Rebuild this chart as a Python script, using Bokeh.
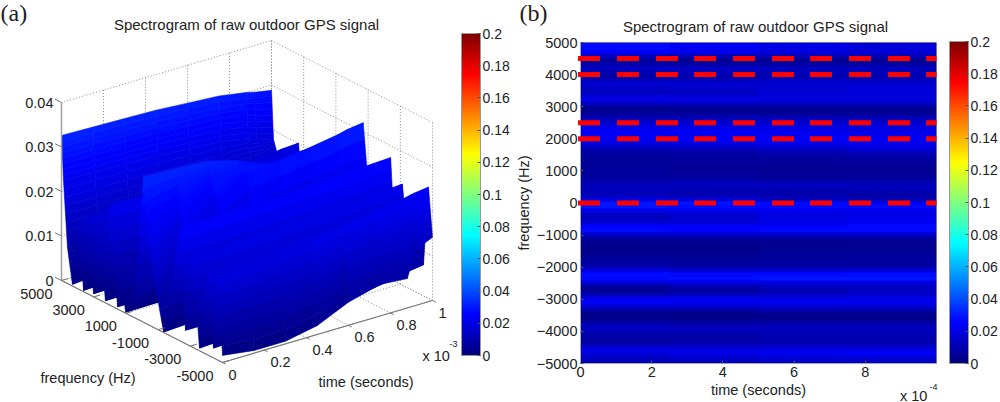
from bokeh.core.properties import value
from bokeh.embed import file_html
from bokeh.layouts import row
from bokeh.models import ColorBar, ColumnDataSource, FixedTicker, Label, LinearColorMapper, Range1d
from bokeh.plotting import figure
from bokeh.resources import INLINE
import numpy as np

TITLE = "Spectrogram of raw outdoor GPS signal"
SANS = "Liberation Sans"

cbar_ticks = [0, 0.02, 0.04, 0.06, 0.08, 0.1, 0.12, 0.14, 0.16, 0.18, 0.2]
cbar_labels = ["0", "0.02", "0.04", "0.06", "0.08", "0.1", "0.12", "0.14", "0.16", "0.18", "0.2"]

# panel (a): surface, z in units of 1e-3
surf_time = [0, 0.15, 0.3, 0.45, 0.6, 0.75, 0.88, 0.92, 1]
surf_freq = [5000, 4875, 4630, 4320, 3950, 3630, 3320, 3010, 2700, 2270, 1960, 1520, 1300,
             1020, 400, -90, -700, -1340, -2400, -2700, -3130, -3570, -4070, -4440, -4750, -5000]
surf_z = [
    [32.6, 32.4, 32.2, 32.0, 31.5, 31.0, 30.0, 29.5, 28.8],
    [22.7, 22.5, 22.3, 22.0, 21.5, 21.0, 20.0, 19.0, 18.0],
    [8.1, 8.2, 8.3, 8.5, 9.0, 10.0, 12.0, 13.0, 15.0],
    [0.4, 1.0, 2.0, 3.0, 5.0, 8.0, 12.0, 14.0, 16.5],
    [15.5, 15.5, 15.6, 15.8, 16.0, 16.5, 17.0, 17.2, 17.7],
    [0.3, 0.6, 1.0, 2.0, 4.0, 7.0, 12.0, 15.0, 18.8],
    [17.7, 17.7, 17.8, 18.0, 18.5, 19.0, 19.5, 19.8, 20.0],
    [0.7, 0.8, 1.0, 1.5, 2.0, 3.0, 4.0, 5.0, 6.0],
    [17.0, 17.0, 17.0, 17.5, 18.0, 18.0, 18.0, 18.0, 18.0],
    [0.5, 0.6, 0.8, 1.0, 1.5, 2.0, 2.5, 3.0, 3.0],
    [22.5, 22.5, 22.0, 22.0, 22.0, 22.0, 22.0, 22.0, 22.0],
    [0.5, 0.5, 0.6, 0.8, 1.0, 1.5, 2.0, 2.0, 2.0],
    [8.0, 8.0, 8.0, 8.0, 8.0, 8.0, 8.0, 8.0, 8.0],
    [0.2, 0.3, 0.5, 0.8, 1.0, 1.5, 2.0, 2.0, 2.0],
    [5.0, 6.0, 7.0, 8.0, 8.0, 8.0, 8.0, 8.0, 8.0],
    [32.7, 32.4, 32.0, 30.0, 27.0, 24.0, 22.0, 21.0, 20.0],
    [12.0, 18.0, 24.0, 28.0, 29.0, 30.0, 31.0, 31.5, 32.0],
    [0.1, 0.5, 1.0, 1.5, 2.0, 3.0, 3.5, 4.0, 4.0],
    [25.6, 25.7, 25.9, 26.0, 26.3, 26.6, 27.0, 27.1, 27.3],
    [3.0, 3.0, 3.0, 4.0, 4.0, 5.0, 6.0, 6.0, 7.0],
    [20.6, 20.8, 21.0, 21.2, 21.5, 21.8, 22.2, 22.4, 22.7],
    [0.6, 1.0, 1.5, 2.0, 2.5, 3.0, 4.0, 5.0, 6.0],
    [18.0, 18.5, 19.0, 19.5, 20.0, 21.0, 21.5, 22.0, 22.0],
    [2.2, 2.5, 3.0, 3.5, 4.0, 5.0, 6.0, 6.5, 7.0],
    [18.7, 19.5, 20.2, 21.0, 22.0, 23.0, 24.0, 24.5, 25.0],
    [1.6, 0.6, 0.6, 2.0, 5.2, 7.1, 6.6, 12.5, 14.2],
]
f_ticks_a = [5000, 3000, 1000, -1000, -3000, -5000]
t_ticks_a = [0, 0.2, 0.4, 0.6, 0.8, 1]
t_labels_a = ["0", "0.2", "0.4", "0.6", "0.8", "1"]
z_ticks_a = [0, 0.01, 0.02, 0.03, 0.04]
z_labels_a = ["0", "0.01", "0.02", "0.03", "0.04"]

# panel (b): spectrum from 5000 Hz down in 125 Hz steps, four time columns, units of 1e-3
spec_a = [27, 27, 24, 11, 6, 10, 14, 10, 8, 13, 17, 14, 13, 18, 21, 14, 4, 4, 8, 13, 17, 22, 24, 24, 22, 20, 13,
          8, 7, 6, 6, 6, 6, 7, 8, 11, 13, 11, 13, 20, 29, 29, 22, 14, 13, 17, 25, 27, 15, 7, 4, 3, 3, 4, 6, 7, 10,
          20, 28, 27, 18, 7, 4, 11, 22, 24, 17, 8, 3, 3, 7, 13, 13, 10, 8, 7, 13, 21, 18, 14, 13]
spec_b = [24, 24, 21, 10, 4, 8, 14, 11, 8, 13, 17, 15, 14, 17, 20, 14, 6, 4, 8, 14, 17, 21, 24, 24, 24, 21, 14,
          10, 7, 6, 6, 4, 6, 6, 8, 13, 13, 10, 11, 18, 29, 28, 22, 17, 15, 18, 25, 25, 15, 7, 4, 3, 3, 4, 6, 7, 8,
          17, 27, 28, 20, 10, 7, 13, 22, 22, 17, 8, 3, 3, 6, 11, 13, 10, 8, 8, 13, 21, 20, 15, 14]
spec_c = [21, 21, 18, 10, 4, 8, 13, 11, 10, 14, 17, 17, 17, 18, 18, 14, 6, 3, 8, 14, 17, 21, 22, 24, 24, 22, 17,
          11, 8, 6, 6, 4, 4, 6, 7, 13, 13, 10, 10, 14, 27, 27, 22, 20, 20, 21, 25, 27, 15, 7, 4, 4, 4, 6, 6, 7, 8,
          17, 27, 29, 21, 13, 10, 14, 21, 22, 17, 10, 4, 3, 6, 11, 13, 11, 10, 10, 13, 21, 22, 17, 15]
spec_d = [18, 18, 17, 10, 4, 8, 13, 11, 10, 14, 17, 18, 18, 18, 18, 14, 6, 3, 8, 14, 17, 20, 21, 22, 24, 22, 20,
          14, 10, 7, 6, 4, 4, 6, 7, 11, 13, 10, 8, 11, 24, 27, 22, 21, 22, 24, 27, 27, 15, 7, 4, 4, 4, 6, 7, 7, 8,
          18, 28, 29, 21, 14, 13, 15, 21, 21, 17, 10, 4, 3, 6, 11, 13, 11, 10, 10, 13, 21, 24, 17, 15]
marker_freqs = [4500, 4000, 2500, 2000, 0]
f_ticks_b = [-5000, -4000, -3000, -2000, -1000, 0, 1000, 2000, 3000, 4000, 5000]
t_ticks_b = [0, 2, 4, 6, 8]


def jet(n=256):
    colors = []
    for v in np.linspace(0, 1, n):
        r = np.clip(min(4 * v - 1.5, -4 * v + 4.5), 0, 1)
        g = np.clip(min(4 * v - 0.5, -4 * v + 3.5), 0, 1)
        b = np.clip(min(4 * v + 0.5, -4 * v + 2.5), 0, 1)
        colors.append("#%02x%02x%02x" % (int(r * 255), int(g * 255), int(b * 255)))
    return colors


mapper = LinearColorMapper(palette=jet(), low=0, high=0.2)


def project(t, f, z):
    # orthographic view of panel (a), gives picture x, y
    u = (5000 - np.asarray(f, dtype=float)) / 10000
    x = 61 + 210 * np.asarray(t, dtype=float) + 161 * u
    y = 280 - 62 * np.asarray(t, dtype=float) + 82 * u - 4450 * np.asarray(z, dtype=float)
    return x, y


def colorbar(plot, x, y):
    bar = ColorBar(color_mapper=mapper, location=(x, y), width=19, height=322, padding=0, margin=0,
                   ticker=FixedTicker(ticks=cbar_ticks),
                   major_label_overrides=dict(zip(cbar_ticks, cbar_labels)),
                   major_label_text_font=SANS, major_label_text_font_size="14px",
                   major_label_text_color="#222222", label_standoff=2,
                   major_tick_line_color="#555555", major_tick_in=3, major_tick_out=0,
                   bar_line_color="#999999", background_fill_alpha=0)
    plot.add_layout(bar, "center")


def guide(plot, t0, f0, z0, t1, f1, z1, color="#8a8a8a", dash="1 2", width=1):
    x, y = project([t0, t1], [f0, f1], [z0, z1])
    plot.line(x, y, line_color=color, line_dash=dash, line_width=width)


def tag(plot, x, y, text, size="14.5px", align="left", font=SANS):
    plot.add_layout(Label(x=x, y=y, text=text, text_font=font, text_font_size=size, text_align=align,
                          text_baseline="middle", text_color="#222222"))


def outside_tag(plot, x, y, dx, dy, text, size="14.5px", align="left", font=SANS):
    # anchored on the frame's edge, pushed out by the offset; overlay level is not clipped
    plot.text(x=[x], y=[y], text=[text], x_offset=dx, y_offset=dy, text_font=value(font), text_font_size=size,
              text_align=align, text_baseline="middle", text_color="#222222", level="overlay")


def surface_plot():
    plot = figure(width=512, height=402, x_range=Range1d(0, 512), y_range=Range1d(402, 0),
                  output_backend="svg", toolbar_location=None, x_axis_location=None, y_axis_location=None,
                  min_border=0, outline_line_color=None, frame_align=False)
    plot.grid.visible = False

    for t in t_ticks_a:
        guide(plot, t, 5000, 0, t, 5000, 0.04)
        guide(plot, t, -5000, 0, t, 5000, 0)
    for f in f_ticks_a:
        guide(plot, 1, f, 0, 1, f, 0.04)
        guide(plot, 0, f, 0, 1, f, 0)
    for z in z_ticks_a:
        guide(plot, 0, 5000, z, 1, 5000, z)
        guide(plot, 1, 5000, z, 1, -5000, z)

    # patches back to front, each cell cut into strips so the walls shade like interp
    z_grid = np.array(surf_z) * 1e-3
    xs, ys, zs = [], [], []
    steps = 8
    for i in range(len(surf_freq) - 1):
        for s in range(steps):
            a, b = s / steps, (s + 1) / steps
            f0 = surf_freq[i] + (surf_freq[i + 1] - surf_freq[i]) * a
            f1 = surf_freq[i] + (surf_freq[i + 1] - surf_freq[i]) * b
            z0 = z_grid[i] + (z_grid[i + 1] - z_grid[i]) * a
            z1 = z_grid[i] + (z_grid[i + 1] - z_grid[i]) * b
            for j in range(len(surf_time) - 2, -1, -1):
                ts = [surf_time[j], surf_time[j + 1], surf_time[j + 1], surf_time[j]]
                fs = [f0, f0, f1, f1]
                cell = [z0[j], z0[j + 1], z1[j + 1], z1[j]]
                x, y = project(ts, fs, cell)
                xs.append(list(x))
                ys.append(list(y))
                zs.append(float(np.mean(cell)))
    source = ColumnDataSource(dict(xs=xs, ys=ys, z=zs))
    fill = {"field": "z", "transform": mapper}
    plot.patches("xs", "ys", source=source, fill_color=fill, line_color=fill, line_width=0.6)

    guide(plot, 0, 5000, 0, 0, 5000, 0.04, "#a0a0a0", "solid", 1.5)
    guide(plot, 0, 5000, 0, 0, -5000, 0, "#777777", "solid", 1.2)
    guide(plot, 0, -5000, 0, 1, -5000, 0, "#777777", "solid", 1.2)
    for z, text in zip(z_ticks_a, z_labels_a):
        guide(plot, 0, 5000, z, 0, 5400, z, "#777777", "solid", 1)
        x, y = project(0, 5000, z)
        tag(plot, x - 8, y, text, align="right")
    for f in f_ticks_a:
        guide(plot, 0, f, 0, 0.03, f, 0, "#777777", "solid", 1)
        x, y = project(0, f, 0)
        tag(plot, x - 9, y + 13, str(f), align="right")
    for t, text in zip(t_ticks_a, t_labels_a):
        guide(plot, t, -5000, 0, t, -5200, 0, "#777777", "solid", 1)
        x, y = project(t, -5000, 0)
        tag(plot, x + 6, y + 12, text)

    tag(plot, 246, 24, TITLE, size="15px", align="center")
    tag(plot, 0, 12, "(a)", size="24px", font="Liberation Serif")
    tag(plot, 40, 377, "frequency (Hz)")
    tag(plot, 318, 381, "time (seconds)")
    tag(plot, 422, 355, "x 10")
    tag(plot, 449, 343, "-3", size="9px")
    colorbar(plot, 461, 47)
    return plot


def image_plot():
    plot = figure(width=488, height=402, x_range=Range1d(0, 10), y_range=Range1d(-5000, 5000),
                  output_backend="svg", toolbar_location=None, min_border_left=68, min_border_right=64,
                  min_border_top=42, min_border_bottom=39, outline_line_color="#999999",
                  x_axis_label="time (seconds)", y_axis_label="frequency (Hz)", frame_align=False)
    plot.grid.visible = False
    for axis, ticks in ((plot.xaxis, t_ticks_b), (plot.yaxis, f_ticks_b)):
        axis.ticker = FixedTicker(ticks=ticks)
        axis.major_tick_in = 3
        axis.major_tick_out = 0
        axis.minor_tick_in = 0
        axis.minor_tick_out = 0
        axis.axis_line_color = "#aaaaaa"
        axis.major_tick_line_color = "#555555"
        axis.major_label_text_font = SANS
        axis.major_label_text_font_size = "14.5px"
        axis.major_label_text_color = "#222222"
        axis.major_label_standoff = 3
        axis.axis_label_text_font = SANS
        axis.axis_label_text_font_size = "14.5px"
        axis.axis_label_text_font_style = "normal"
        axis.axis_label_text_color = "#222222"
        axis.axis_label_standoff = 2

    spec = np.array([spec_a, spec_b, spec_c, spec_d]).T[::-1] * 1e-3
    plot.image(image=[spec], x=0, y=-5000, dw=10, dh=10000, color_mapper=mapper)
    for f in marker_freqs:
        plot.line([-0.07, 10], [f, f], line_color="#ff0000", line_width=5,
                  line_dash="22 17 22 17 22 16", level="overlay")

    outside_tag(plot, 5, 5000, -3, -16, TITLE, size="15px", align="center")
    outside_tag(plot, 0, 5000, -61, -30, "(b)", size="24px", font="Liberation Serif")
    outside_tag(plot, 9, -5000, -1, 32, "x 10")
    outside_tag(plot, 9.8, -5000, 0, 23, "-4", size="9px")
    colorbar(plot, 369, 0)
    return plot


layout = row(surface_plot(), image_plot())
open("out.html", "w").write(file_html(layout, INLINE))
